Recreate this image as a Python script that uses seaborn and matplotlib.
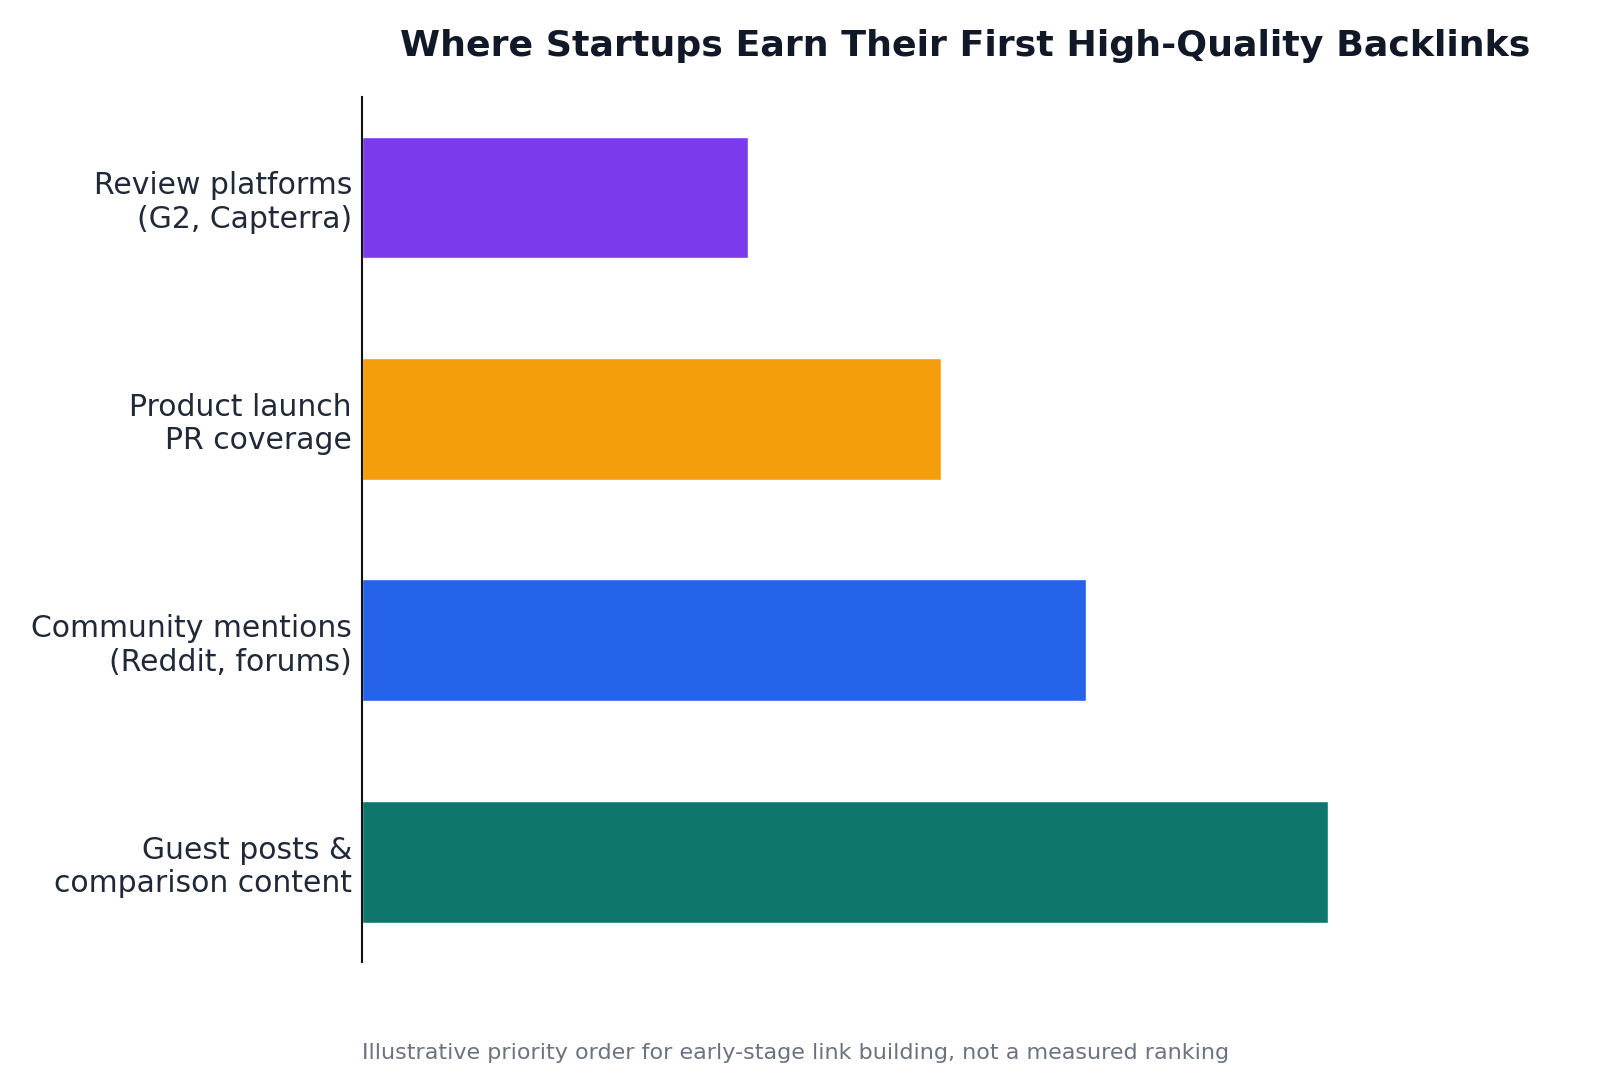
import matplotlib
matplotlib.use("Agg")
import matplotlib.pyplot as plt
import pandas as pd
import seaborn as sns

channels = [
    "Review platforms\n(G2, Capterra)",
    "Product launch\nPR coverage",
    "Community mentions\n(Reddit, forums)",
    "Guest posts &\ncomparison content",
]
priority = [4, 6, 7.5, 10]
colors = ["#7c3aed", "#f59e0b", "#2563eb", "#0f766e"]

title = "Where Startups Earn Their First High-Quality Backlinks"
note = "Illustrative priority order for early-stage link building, not a measured ranking"

df = pd.DataFrame({"channel": channels, "priority": priority})

sns.set_style("white")
plt.rcParams["font.family"] = ["DejaVu Sans"]

fig = plt.figure(figsize=(16, 10.92), dpi=100)
ax = fig.add_axes([0.226, 0.119, 0.755, 0.792])

bar_w = 0.55
sns.barplot(
    data=df, y="channel", x="priority", hue="channel",
    palette=colors, orient="h", width=bar_w, saturation=1,
    legend=False, ax=ax,
)

# matplotlib-style 5% margins instead of seaborn's categorical padding
n = len(channels)
span = (n - 1) + bar_w
pad = 0.05 * span
ax.set_ylim(n - 1 + bar_w / 2 + pad, -bar_w / 2 - pad)
ax.set_xlim(0, 12.5)
ax.set_xlabel("")
ax.set_ylabel("")
ax.set_xticks([])
ax.tick_params(axis="y", length=0, pad=7, labelsize=21.5, labelcolor="#1f2937")
for s in ["top", "right", "bottom"]:
    ax.spines[s].set_visible(False)
ax.spines["left"].set_color("#111111")
ax.spines["left"].set_linewidth(1.5)

ax.set_title(title, fontsize=26.2, fontweight="bold", color="#111827", pad=30)
fig.text(0.226, 0.036, note, fontsize=16, color="#6b7280", ha="left", va="center")

fig.savefig("out.png", dpi=100)
